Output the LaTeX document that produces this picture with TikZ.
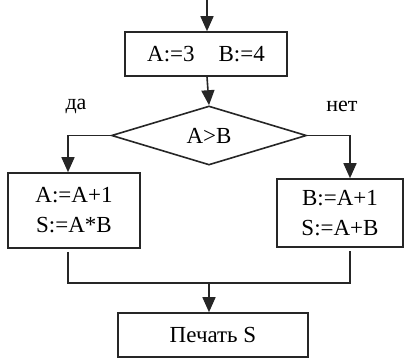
\documentclass[tikz,border=0pt]{standalone}
\usepackage{fontspec}
\setmainfont{Liberation Serif}
\usetikzlibrary{arrows.meta,shapes.geometric}
\tikzset{
  flow/.style={line width=1.6pt, draw=black!85},
  arr/.style={flow, -{Triangle[length=15pt,width=13pt]}},
  blk/.style={flow, rectangle, inner sep=0pt, font=\fontsize{23}{30}\selectfont, align=center},
  cond/.style={flow, diamond, inner sep=0pt, aspect=3.3, font=\fontsize{23}{25}\selectfont},
  lbl/.style={font=\fontsize{22}{25}\selectfont, inner sep=0pt}
}
\begin{document}
\begin{tikzpicture}[x=1pt,y=-1pt]
  \useasboundingbox (0,0) rectangle (404,358);
  \fill[white] (0,0) rectangle (404,358);

  % entry point
  \coordinate (in) at (207,0);

  % blocks
  \node[blk, minimum width=162pt, minimum height=44pt] (init) at (206,54) {A:=3\hspace{24pt}B:=4};
  \node[cond, minimum width=195pt, minimum height=59pt] (test) at (209,135.5) {A>B};
  \node[blk, minimum width=132pt, minimum height=75pt] (yes) at (74,210.5) {A:=A+1\\S:=A*B};
  \node[blk, minimum width=126pt, minimum height=68pt] (no) at (340,213) {B:=A+1\\S:=A+B};
  \node[blk, minimum width=190pt, minimum height=44pt] (out) at (213,335) {Печать S};

  % branch labels
  \node[lbl] (lyes) at (76,106) {да};
  \node[lbl] (lno) at (342,106) {нет};

  % connectors
  \draw[arr] (in) -- (in |- init.north);
  \draw[arr] (init.south -| in) -- (test.north);
  \draw[arr] (test.west) -| ([xshift=-6pt]yes.north);
  \draw[arr] (test.east) -| ([xshift=10pt]no.north);

  % merge of both branches
  \coordinate (jl) at ([xshift=-6pt]yes.south);
  \coordinate (jr) at ([xshift=10pt]no.south);
  \coordinate (jm) at (209,283);
  \draw[flow, shorten <=3pt, shorten >=3pt] (jl) -- (jl |- jm) -- (jr |- jm) -- (jr);
  \draw[arr] (jm) -- (jm |- out.north);
\end{tikzpicture}
\end{document}
